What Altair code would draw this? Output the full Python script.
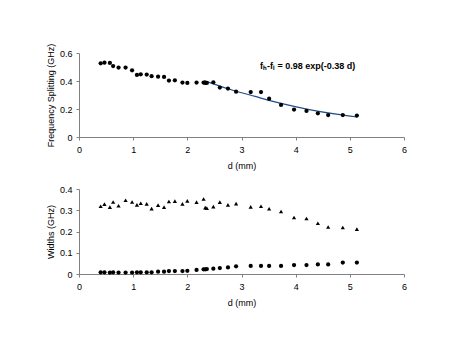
import altair as alt
import pandas as pd

d_mm = [0.40, 0.47, 0.57, 0.63, 0.73, 0.86, 0.98, 1.07, 1.14, 1.25, 1.34, 1.46,
        1.57, 1.66, 1.77, 1.91, 2.00, 2.17, 2.30, 2.33, 2.36, 2.48, 2.60, 2.75,
        2.90, 3.17, 3.36, 3.51, 3.73, 3.97, 4.20, 4.41, 4.60, 4.87, 5.13]
splitting = [0.526, 0.531, 0.529, 0.507, 0.496, 0.496, 0.476, 0.443, 0.448, 0.446,
             0.434, 0.431, 0.429, 0.403, 0.405, 0.389, 0.386, 0.389, 0.389, 0.386,
             0.386, 0.391, 0.353, 0.346, 0.324, 0.321, 0.321, 0.274, 0.229, 0.196,
             0.186, 0.169, 0.157, 0.157, 0.153]
width_high = [0.319, 0.329, 0.315, 0.339, 0.321, 0.347, 0.339, 0.325, 0.333, 0.330,
              0.308, 0.324, 0.315, 0.341, 0.343, 0.330, 0.344, 0.338, 0.353, 0.312,
              0.310, 0.317, 0.338, 0.325, 0.331, 0.316, 0.319, 0.307, 0.294, 0.266,
              0.261, 0.239, 0.221, 0.219, 0.211]
width_low = [0.008, 0.008, 0.007, 0.008, 0.007, 0.007, 0.007, 0.008, 0.008, 0.008,
             0.008, 0.011, 0.011, 0.014, 0.014, 0.014, 0.015, 0.019, 0.022, 0.022,
             0.023, 0.025, 0.028, 0.031, 0.036, 0.038, 0.038, 0.038, 0.038, 0.042,
             0.042, 0.045, 0.045, 0.054, 0.054]

fit_d = [2.31, 2.75, 3.25, 3.75, 4.25, 4.75, 5.13]
fit_val = [0.403, 0.345, 0.290, 0.238, 0.196, 0.163, 0.143]

x_ticks = [0, 1, 2, 3, 4, 5, 6]
top_ticks = [0, 0.2, 0.4, 0.6]
bottom_ticks = [0, 0.1, 0.2, 0.3, 0.4]

eq_label = "fₕ-fₗ = 0.98 exp(-0.38 d)"
eq_d, eq_y = 4.22, 0.51

top_long = pd.DataFrame({"d": d_mm, "v": splitting})
fit = pd.DataFrame({"d": fit_d, "v": fit_val})
eq = pd.DataFrame({"d": [eq_d], "v": [eq_y], "t": [eq_label]})
hi = pd.DataFrame({"d": d_mm, "v": width_high})
lo = pd.DataFrame({"d": d_mm, "v": width_low})

FONT = "Liberation Sans"
W, H = 325, 84

X = alt.X("d:Q", scale=alt.Scale(domain=[0, 6], nice=False),
          axis=alt.Axis(values=x_ticks, title="d (mm)", format="d"))
Y_TOP = alt.Y("v:Q", scale=alt.Scale(domain=[0, 0.6], nice=False),
              axis=alt.Axis(values=top_ticks, title="Frequency Splitting (GHz)", format=".1~f"))
Y_BOT = alt.Y("v:Q", scale=alt.Scale(domain=[0, 0.4], nice=False),
              axis=alt.Axis(values=bottom_ticks, title="Widths (GHz)", format=".1~f"))

top_pts = alt.Chart(top_long).mark_circle(color="black", opacity=1, size=18).encode(x=X, y=Y_TOP)
top_fit = alt.Chart(fit).mark_line(color="#1f4e8a", strokeWidth=1.2, interpolate="monotone").encode(
    x=X, y=Y_TOP)
top_eq = alt.Chart(eq).mark_text(font=FONT, fontSize=9, fontWeight="bold", color="black").encode(
    x=X, y=Y_TOP, text="t:N")
top = alt.layer(top_fit, top_pts, top_eq).properties(width=W, height=H)

bot_tri = alt.Chart(hi).mark_point(shape="triangle-up", filled=True, color="black", opacity=1, size=18).encode(
    x=X, y=Y_BOT)
bot_circ = alt.Chart(lo).mark_circle(color="black", opacity=1, size=18).encode(x=X, y=Y_BOT)
bottom = alt.layer(bot_tri, bot_circ).properties(width=W, height=H + 1)

chart = alt.vconcat(top, bottom, spacing=15).properties(
    padding={"left": 38, "top": 35, "right": 10, "bottom": 10}
).configure_view(stroke=None).configure_axis(
    grid=False,
    domainColor="#808080",
    tickColor="#808080",
    tickSize=3,
    labelOverlap=False,
    labelFlush=False,
    labelFont=FONT,
    labelFontSize=9,
    labelColor="black",
    titleFont=FONT,
    titleFontSize=9,
    titleFontWeight="normal",
    titleColor="black",
).configure_axisY(titlePadding=4, labelPadding=4).configure_axisX(titlePadding=7, labelPadding=5)

chart.save("out.html", embed_options={"renderer": "svg", "actions": False})
